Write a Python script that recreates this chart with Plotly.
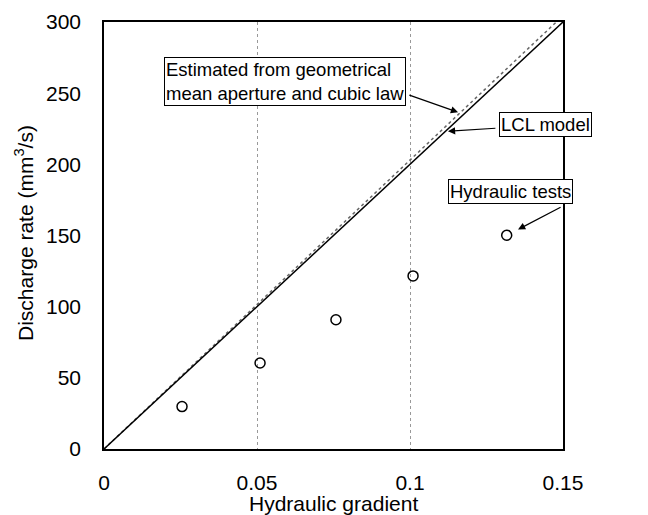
import plotly.graph_objects as go

# Hydraulic test measurements
gradient_tests = [0.0255, 0.051, 0.0758, 0.101, 0.1316]
discharge_tests = [29.8, 60.4, 90.8, 121.6, 150.2]

# Model lines (end points)
lcl_x = [0.0, 0.15]
lcl_y = [0.0, 300.0]
cubic_x = [0.0, 0.1478]
cubic_y = [0.0, 300.0]

x_ticks = [0, 0.05, 0.1, 0.15]
x_tick_text = ["0", "0.05", "0.1", "0.15"]
y_ticks = [0, 50, 100, 150, 200, 250, 300]

FONT = "Liberation Sans, Arial, sans-serif"

fig = go.Figure()

fig.add_trace(go.Scatter(
    x=cubic_x, y=cubic_y, mode="lines",
    line=dict(color="#666666", width=1.5, dash="dot"),
    showlegend=False, hoverinfo="skip",
))
fig.add_trace(go.Scatter(
    x=lcl_x, y=lcl_y, mode="lines",
    line=dict(color="black", width=1.5),
    showlegend=False, hoverinfo="skip",
))
fig.add_trace(go.Scatter(
    x=gradient_tests, y=discharge_tests, mode="markers",
    marker=dict(symbol="circle-open", size=10, color="black", line=dict(width=1.5)),
    showlegend=False,
))

label_font = dict(family=FONT, size=18.5, color="black")
title_font = dict(family=FONT, size=21, color="black")

# Boxed labels
fig.add_annotation(x=0.059, y=258, xref="x", yref="y", showarrow=False,
                   text="Estimated from geometrical<br>mean aperture and cubic law",
                   align="left", font=label_font, bgcolor="white",
                   bordercolor="black", borderwidth=1, borderpad=1)
fig.add_annotation(x=0.1443, y=227.8, xref="x", yref="y", showarrow=False,
                   text="LCL model", font=label_font, bgcolor="white",
                   bordercolor="black", borderwidth=1, borderpad=1)
fig.add_annotation(x=1.0207, y=181, xref="paper", yref="y", showarrow=False,
                   text="Hydraulic tests", font=label_font, bgcolor="white",
                   bordercolor="black", borderwidth=1, borderpad=1)

# Pointer arrows
arrows = [
    ((0.1157, 236.6), (0.0993, 249.0)),
    ((0.1124, 223.2), (0.1284, 225.4)),
    ((0.1353, 154.2), (0.1497, 170.4)),
]
for (tx, ty), (sx, sy) in arrows:
    fig.add_annotation(x=tx, y=ty, ax=sx, ay=sy, xref="x", yref="y",
                       axref="x", ayref="y", text="", showarrow=True,
                       arrowhead=2, arrowsize=1.2, arrowwidth=1.2,
                       arrowcolor="black", standoff=0)

# Axis titles
fig.add_annotation(x=0.5, y=-0.1265, xref="paper", yref="paper", showarrow=False,
                   text="Hydraulic gradient", font=title_font,
                   xanchor="center", yanchor="middle")
fig.add_annotation(x=-0.173, y=0.505, xref="paper", yref="paper", showarrow=False,
                   text="Discharge rate (mm<sup>3</sup>/s)", font=title_font,
                   textangle=-90, xanchor="center", yanchor="middle")

fig.update_layout(
    width=648, height=515,
    margin=dict(l=104, r=85, t=22, b=66),
    paper_bgcolor="white", plot_bgcolor="white",
    font=dict(family=FONT, size=21, color="black"),
)
fig.update_xaxes(
    range=[0, 0.15], tickvals=x_ticks, ticktext=x_tick_text,
    showline=True, linecolor="black", linewidth=1.5, mirror=True,
    showgrid=True, gridcolor="#999999", griddash="dot", gridwidth=1,
    zeroline=False, ticks="outside", ticklen=14, tickcolor="rgba(0,0,0,0)",
    tickfont=dict(size=21), automargin=False,
)
fig.update_yaxes(
    range=[0, 300], tickvals=y_ticks,
    showline=True, linecolor="black", linewidth=1.5, mirror=True,
    showgrid=False, zeroline=False,
    ticks="outside", ticklen=17, tickcolor="rgba(0,0,0,0)",
    tickfont=dict(size=21), automargin=False,
)

fig.write_html("out.html")
